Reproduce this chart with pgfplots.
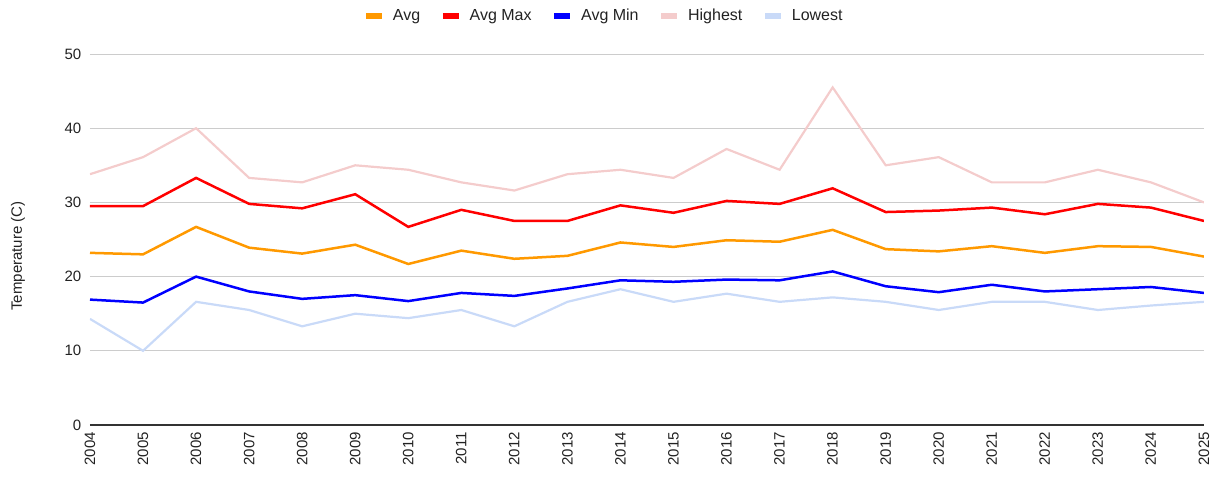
\documentclass[border=0pt]{standalone}
\usepackage{fontspec}
\setmainfont{Liberation Sans}
\usepackage{pgfplots}
\pgfplotsset{compat=1.18}
\usepackage{pgfplotstable}
\definecolor{cavg}{HTML}{FF9900}
\definecolor{cmax}{HTML}{FF0000}
\definecolor{cmin}{HTML}{0000FF}
\definecolor{chigh}{HTML}{F4CCCC}
\definecolor{clow}{HTML}{C9DAF8}
\definecolor{ctext}{HTML}{222222}
\definecolor{cgrid}{HTML}{CCCCCC}
\definecolor{cbase}{HTML}{333333}

\pgfplotstableread{
year avg avgmax avgmin highest lowest
2004 23.2 29.5 16.9 33.8 14.3
2005 23.0 29.5 16.5 36.1 10.0
2006 26.7 33.3 20.0 40.0 16.6
2007 23.9 29.8 18.0 33.3 15.5
2008 23.1 29.2 17.0 32.7 13.3
2009 24.3 31.1 17.5 35.0 15.0
2010 21.7 26.7 16.7 34.4 14.4
2011 23.5 29.0 17.8 32.7 15.5
2012 22.4 27.5 17.4 31.6 13.3
2013 22.8 27.5 18.4 33.8 16.6
2014 24.6 29.6 19.5 34.4 18.3
2015 24.0 28.6 19.3 33.3 16.6
2016 24.9 30.2 19.6 37.2 17.7
2017 24.7 29.8 19.5 34.4 16.6
2018 26.3 31.9 20.7 45.5 17.2
2019 23.7 28.7 18.7 35.0 16.6
2020 23.4 28.9 17.9 36.1 15.5
2021 24.1 29.3 18.9 32.7 16.6
2022 23.2 28.4 18.0 32.7 16.6
2023 24.1 29.8 18.3 34.4 15.5
2024 24.0 29.3 18.6 32.7 16.1
2025 22.7 27.5 17.8 30.0 16.6
}\datatable

\begin{document}
\begin{tikzpicture}
\path[use as bounding box] (0,0) rectangle (1211pt,477pt);
\begin{axis}[
  at={(90pt,52pt)}, anchor=south west,
  scale only axis, width=1114pt, height=371pt,
  xmin=2004, xmax=2025, ymin=0, ymax=50,
  xtick={2004,...,2025}, ytick={0,10,...,50},
  /pgf/number format/assume math mode=true,
  /pgf/number format/1000 sep={},
  major tick length=0pt,
  ymajorgrids, grid style={cgrid, line width=1pt},
  axis x line*=bottom, axis y line*=left,
  x axis line style={-, draw=cbase, line width=1.2pt},
  y axis line style={draw=none},
  tick label style={font=\fontsize{15}{18}\selectfont, text=ctext},
  x tick label style={rotate=90, anchor=east, inner xsep=7pt},
  y tick label style={anchor=east, inner xsep=8.5pt},
  ylabel={Temperature (C)},
  every axis y label/.style={at={(rel axis cs:-0.0646,0.4555)}, rotate=90, anchor=center, font=\fontsize{15}{18}\selectfont, text=ctext},
  legend columns=5,
  legend style={at={(rel axis cs:0.4641,1.1024)}, anchor=center, draw=none, fill=none,
    font=\fontsize{16}{19}\selectfont, text=ctext,
    /tikz/every even column/.style={column sep=12pt},
    nodes={inner xsep=8pt, text height=11.5pt, text depth=3.5pt}},
  legend image code/.code={\draw[#1, line width=5.5pt, line cap=butt] (0pt,0pt) -- (16pt,0pt);},
  legend cell align=left,
]
\addplot[cavg, line width=2.5pt] table[x=year, y=avg] {\datatable};
\addlegendentry{Avg}
\addplot[cmax, line width=2.5pt] table[x=year, y=avgmax] {\datatable};
\addlegendentry{Avg Max}
\addplot[cmin, line width=2.5pt] table[x=year, y=avgmin] {\datatable};
\addlegendentry{Avg Min}
\addplot[chigh, line width=2.2pt] table[x=year, y=highest] {\datatable};
\addlegendentry{Highest}
\addplot[clow, line width=2.2pt] table[x=year, y=lowest] {\datatable};
\addlegendentry{Lowest}
\end{axis}
\end{tikzpicture}
\end{document}
